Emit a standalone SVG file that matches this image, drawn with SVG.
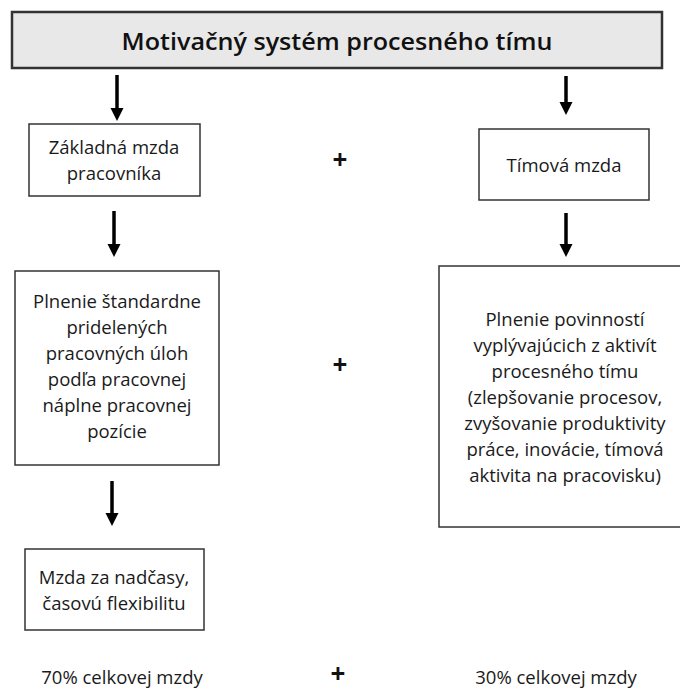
<svg xmlns="http://www.w3.org/2000/svg" width="680" height="690" viewBox="0 0 680 690">
<style>
.box{fill:#ffffff;stroke:#333333;stroke-width:1.5}
.t{font-family:"Open Sans","Liberation Sans",sans-serif;font-size:18.5px;fill:#1a1a1a;text-anchor:middle}
.plus{font-family:"Open Sans","Liberation Sans",sans-serif;font-size:26px;font-weight:bold;fill:#111111;text-anchor:middle}
.conn{stroke:#000000;stroke-width:3.5;fill:none}
.head{fill:#000000}
</style>
<rect width="680" height="690" fill="#ffffff"/>
<g id="title">
<rect x="12" y="12" width="650" height="56" fill="#e8e8e8" stroke="#333333" stroke-width="2.5"/>
<text x="337" y="50" font-family="'Open Sans','Liberation Sans',sans-serif" font-size="24" font-weight="600" fill="#111111" text-anchor="middle" textLength="431" lengthAdjust="spacingAndGlyphs">Motivačný systém procesného tímu</text>
</g>
<g id="connectors">
<line class="conn" x1="117" y1="75" x2="117" y2="109"/>
<path class="head" d="M110.5,108 L123.5,108 L117,121 Z"/>
<line class="conn" x1="566" y1="76" x2="566" y2="103"/>
<path class="head" d="M559.5,102 L572.5,102 L566,115 Z"/>
<line class="conn" x1="114" y1="211" x2="114" y2="245"/>
<path class="head" d="M107.5,244 L120.5,244 L114,257 Z"/>
<line class="conn" x1="566" y1="213" x2="566" y2="245"/>
<path class="head" d="M559.5,244 L572.5,244 L566,257 Z"/>
<line class="conn" x1="112" y1="481" x2="112" y2="514"/>
<path class="head" d="M105.5,513 L118.5,513 L112,526 Z"/>
</g>
<g id="zakladna">
<rect class="box" x="29" y="124" width="171" height="72"/>
<text class="t" x="114" y="154">Základná mzda</text>
<text class="t" x="114" y="180">pracovníka</text>
</g>
<g id="timova">
<rect class="box" x="479" y="129" width="170" height="71"/>
<text class="t" x="564" y="172">Tímová mzda</text>
</g>
<g id="plnenie-standard">
<rect class="box" x="15" y="271" width="204" height="194"/>
<text class="t" x="117" y="308">Plnenie štandardne</text>
<text class="t" x="117" y="334">pridelených</text>
<text class="t" x="117" y="360">pracovných úloh</text>
<text class="t" x="117" y="386">podľa pracovnej</text>
<text class="t" x="117" y="412">náplne pracovnej</text>
<text class="t" x="117" y="438">pozície</text>
</g>
<g id="plnenie-povinnosti">
<rect class="box" x="439" y="266" width="260" height="261"/>
<text class="t" x="565" y="326">Plnenie povinností</text>
<text class="t" x="565" y="352">vyplývajúcich z aktivít</text>
<text class="t" x="565" y="378">procesného tímu</text>
<text class="t" x="565" y="404">(zlepšovanie procesov,</text>
<text class="t" x="565" y="430">zvyšovanie produktivity</text>
<text class="t" x="565" y="456">práce, inovácie, tímová</text>
<text class="t" x="565" y="482">aktivita na pracovisku)</text>
</g>
<g id="nadcasy">
<rect class="box" x="25" y="549" width="179" height="81"/>
<text class="t" x="114" y="584">Mzda za nadčasy,</text>
<text class="t" x="114" y="610">časovú flexibilitu</text>
</g>
<g id="plus-signs">
<text class="plus" x="340" y="169">+</text>
<text class="plus" x="340" y="374">+</text>
<text class="plus" x="338" y="683">+</text>
</g>
<g id="shares">
<text class="t" x="122" y="684">70% celkovej mzdy</text>
<text class="t" x="556" y="684">30% celkovej mzdy</text>
</g>
</svg>
